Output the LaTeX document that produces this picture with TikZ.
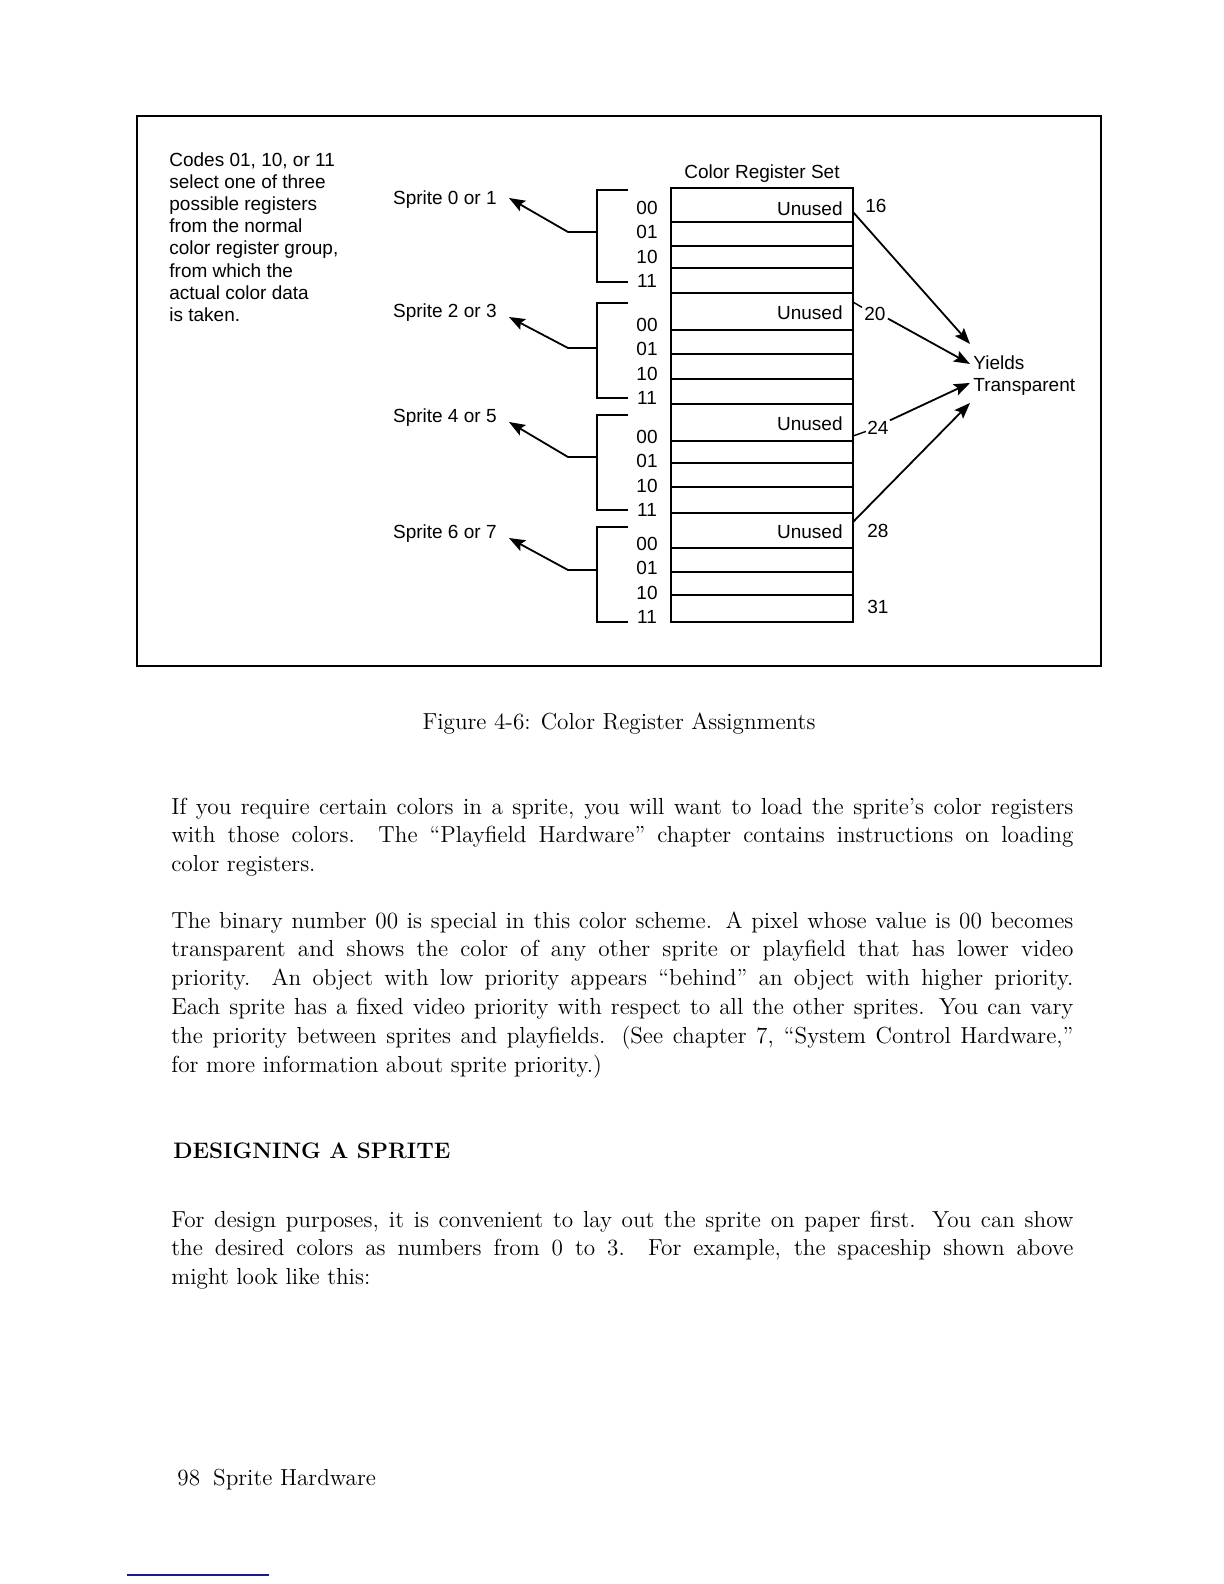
\documentclass[tikz,border=0pt]{standalone}
\usepackage{fontspec}
\newfontfamily\diagfont{Liberation Sans}
\usetikzlibrary{arrows.meta}
\definecolor{rulecol}{RGB}{25,25,150}
\tikzset{
  frame/.style={draw=black, line width=1.3pt},
  cell/.style={draw=black, line width=1pt, minimum width=91pt, inner sep=0, outer sep=0},
  regframe/.style={draw=black, line width=1.4pt},
  bracket/.style={line width=1.3pt},
  ptr/.style={-{Stealth[length=8pt,width=6pt,inset=1.5pt]}, line width=0.9pt},
  leader/.style={line width=0.7pt},
  lbl/.style={font=\diagfont\fontsize{9.5}{11.1}\selectfont, inner sep=0},
  bit/.style={lbl, anchor=base},
  plain/.style={font=\fontsize{11.6}{14.4}\selectfont, inner sep=0},
  body/.style={plain, text width=451pt, align=justify, anchor=base west}
}
\begin{document}
\begin{tikzpicture}[x=0.5pt,y=-0.5pt]
  \useasboundingbox (0,0) rectangle (1224,1584);
  \draw[frame] (137,116) rectangle (1101,666);
  \node[lbl, align=left, anchor=north west] (note) at (169,152) {Codes 01, 10, or 11\\select one of three\\possible registers\\from the normal\\color register group,\\from which the\\actual color data\\is taken.};
  \node[lbl, anchor=base] (crs) at (762,178) {Color Register Set};
  \foreach \ra/\rb [count=\n from 16] in {188/222,222/246,246/268,268/293,293/330,330/354,354/379,379/404,404/441,441/463,463/487,487/513,513/548,548/572,572/595,595/622}{
    \pgfmathsetmacro{\h}{(\rb-\ra)/2}
    \node[cell, minimum height=\h pt, anchor=north west] (r\n) at (671,\ra) {};
  }
  \draw[regframe] (r16.north west) rectangle (r31.south east);
  \foreach \n/\y in {16/215,20/319,24/430,28/538}{\node[lbl, anchor=base east] (u\n) at (843,\y) {Unused};}
  \foreach \n/\x/\y in {16/865/212,20/864/320,24/867/434,28/867/537,31/867/613}{\node[lbl, anchor=base west] (n\n) at (\x,\y) {\n};}
  \foreach \g/\yt/\yb/\ym/\lab/\yl/\yd/\yc in {1/190/282/232/{Sprite 0 or 1}/204/3pt/214,2/303/398/348/{Sprite 2 or 3}/317/0pt/331,3/415/510/457/{Sprite 4 or 5}/422/0pt/443,4/527/622/570/{Sprite 6 or 7}/538/0pt/550}{
    \node[lbl, anchor=base east] (sp\g) at (497,\yl) {\lab};
    \coordinate (brk\g) at (597,\ym);
    \draw[bracket] (628,\yt) -- (597,\yt) -- (597,\yb) -- (628,\yb);
    \draw[ptr] (brk\g) -- ++(-29,0) -- ([shift={(6pt,\yd)}]sp\g.base east);
    \foreach \cd [count=\j from 0] in {00,01,10,11}{\node[bit] (b\g-\cd) at (647,{\yc+24.5*\j}) {\cd};}
  }
  \node[lbl, align=left, anchor=north west] (yld) at (973,355) {Yields\\Transparent};
  \draw[ptr] ([yshift=-3.5pt]r16.east) -- ([shift={(-1.5pt,15.7pt)}]yld.west);
  \draw[ptr] ([shift={(1pt,1pt)}]n20.south east) -- ([shift={(-1.5pt,5.7pt)}]yld.west);
  \draw[ptr] ([xshift=0.5pt]n24.north east) -- ([shift={(-1.5pt,-3.8pt)}]yld.west);
  \draw[ptr] ([yshift=-4.5pt]r28.north east) -- ([shift={(-1.5pt,-13.8pt)}]yld.west);
  \draw[leader] ([yshift=-4.5pt]r20.north east) -- ([shift={(-1pt,-0.5pt)}]n20.north west);
  \draw[leader] ([yshift=2.5pt]r24.south east) -- ([shift={(-0.5pt,1.5pt)}]n24.south west);
  \node[plain, anchor=base] (cap) at (619,729) {Figure 4-6: Color Register Assignments};
  \node[body] (p1) at (171,814) {If you require certain colors in a sprite, you will want to load the sprite’s color registers\linebreak with those colors. The “Playfield Hardware” chapter contains instructions on loading\linebreak color registers.};
  \node[body] (p2) at (171,928) {The binary number 00 is special in this color scheme. A pixel whose value is 00 becomes\linebreak transparent and shows the color of any other sprite or playfield that has lower video\linebreak priority. An object with low priority appears “behind” an object with higher priority.\linebreak Each sprite has a fixed video priority with respect to all the other sprites. You can vary\linebreak the priority between sprites and playfields. (See chapter 7, “System Control Hardware,”\linebreak for more information about sprite priority.)};
  \node[plain, font=\fontsize{11.2}{14}\selectfont\bfseries, anchor=base west] (hd) at (173,1158) {DESIGNING A SPRITE};
  \node[body] (p3) at (171,1227) {For design purposes, it is convenient to lay out the sprite on paper first. You can show\linebreak the desired colors as numbers from 0 to 3. For example, the spaceship shown above\linebreak might look like this:};
  \node[plain, anchor=base west] (foot) at (177,1485) {98\hspace{6.5pt}Sprite Hardware};
  \draw[rulecol, line width=0.7pt] (127,1575) -- (269,1575);
\end{tikzpicture}
\end{document}
